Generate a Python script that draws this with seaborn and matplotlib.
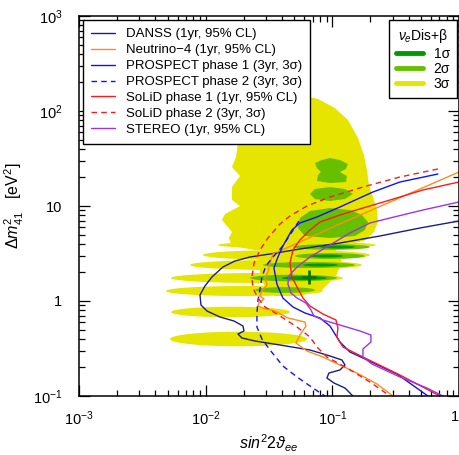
import numpy as np
import matplotlib
matplotlib.use("Agg")
import matplotlib.pyplot as plt
from matplotlib.lines import Line2D
from matplotlib.ticker import FixedLocator, FixedFormatter, LogLocator, NullFormatter
import seaborn as sns

# ---------------- exclusion / sensitivity curves: (sin^2 2theta_ee, dm2_41) ----------------
danss_s = [1.0, 0.4914, 0.2376, 0.1148, 0.0555, 0.0322, 0.0224, 0.01703, 0.01369, 0.01121,
           0.00987, 0.00902, 0.00918, 0.01024, 0.01297, 0.01673, 0.01970, 0.02006, 0.01799,
           0.01934, 0.02450, 0.0386, 0.0666, 0.0958, 0.1191, 0.1258, 0.1148, 0.0940, 0.0906,
           0.1030, 0.1258, 0.1454]
danss_m = [6.952, 5.867, 4.833, 4.077, 3.527, 3.124, 2.906, 2.637, 2.280, 1.789, 1.438, 1.157,
           0.9075, 0.7847, 0.6784, 0.6158, 0.5456, 0.4833, 0.4494, 0.4077, 0.3793, 0.3442,
           0.3050, 0.2637, 0.2393, 0.2120, 0.1878, 0.1746, 0.1547, 0.1370, 0.1214, 0.1]

nu4_s = [1.0, 0.1191, 0.0386, 0.0340, 0.0322, 0.0310, 0.0294, 0.0305, 0.0278, 0.0268, 0.0289,
         0.0263, 0.0259, 0.0283, 0.0352, 0.0446, 0.0608, 0.0619, 0.0555, 0.0516, 0.0630,
         0.0843, 0.1564, 0.2249, 0.3008]
nu4_m = [22.80, 6.624, 3.360, 3.124, 2.512, 2.020, 1.746, 1.474, 1.274, 1.129, 1.050, 0.9526,
         0.8859, 0.8437, 0.7847, 0.6624, 0.6010, 0.5456, 0.4386, 0.3613, 0.2976, 0.2573,
         0.1746, 0.1338, 0.1]

prosp1_s = [0.6818, 0.3417, 0.2092, 0.1148, 0.0756, 0.0555, 0.0480, 0.0407, 0.0372, 0.0346,
            0.0365, 0.0407, 0.0489, 0.0608, 0.0799, 0.0958, 0.1148, 0.1377, 0.1744, 0.3235, 0.5683]
prosp1_m = [21.72, 17.89, 14.04, 9.761, 7.660, 6.624, 5.589, 3.793, 2.906, 2.226, 1.510, 1.075,
            0.8646, 0.7475, 0.6624, 0.5456, 0.3702, 0.2906, 0.2512, 0.1704, 0.1]

prosp2_s = [0.0545, 0.0463, 0.0400, 0.0340, 0.0299, 0.0278, 0.0268, 0.0259, 0.0254, 0.0254,
            0.0278, 0.0322, 0.0407, 0.0526, 0.0703, 0.0874]
prosp2_m = [6.952, 4.952, 3.702, 2.906, 2.336, 1.789, 1.305, 1.0245, 0.7475, 0.5324, 0.3981,
            0.3050, 0.2070, 0.1585, 0.1214, 0.1]

solid1_s = [1.0, 0.5190, 0.2849, 0.1744, 0.1148, 0.0799, 0.0666, 0.0555, 0.0489, 0.0463, 0.0480,
            0.0526, 0.0586, 0.0666, 0.0843, 0.1068, 0.1107, 0.1087, 0.1212, 0.1744, 0.3417, 0.7068]
solid1_m = [17.89, 14.74, 11.56, 9.526, 8.040, 6.784, 5.589, 4.386, 3.442, 2.512, 1.789, 1.404,
            1.075, 0.8859, 0.7297, 0.6310, 0.5197, 0.4178, 0.3280, 0.2573, 0.1663, 0.1]

solid2_s = [0.6818, 0.3417, 0.1744, 0.0958, 0.0630, 0.0463, 0.0386, 0.0310, 0.0268, 0.0241,
            0.0232, 0.0236, 0.0259, 0.0294, 0.0365, 0.0526, 0.0666, 0.0756, 0.0906, 0.1304,
            0.1981, 0.2849]
solid2_m = [24.52, 20.20, 15.85, 12.43, 10.0, 7.847, 6.465, 4.605, 3.442, 2.512, 1.789, 1.370,
            1.075, 0.8646, 0.7297, 0.5324, 0.4178, 0.3280, 0.2573, 0.1971, 0.1404, 0.1]

stereo_s = [1.0, 0.5190, 0.2849, 0.1981, 0.1377, 0.0958, 0.0666, 0.0526, 0.0454, 0.0446, 0.0471,
            0.0526, 0.0619, 0.0678, 0.0716, 0.0843, 0.1148, 0.1652, 0.2017, 0.2017, 0.1744,
            0.1744, 0.2054, 0.3417, 0.5580, 0.7464]
stereo_m = [11.02, 9.075, 7.474, 6.624, 5.197, 3.886, 2.906, 2.280, 1.833, 1.510, 1.214, 1.075,
            0.9526, 0.8040, 0.6952, 0.6310, 0.5589, 0.4833, 0.4386, 0.3702, 0.3124, 0.2573,
            0.2172, 0.1585, 0.1214, 0.1]

# ---------------- allowed regions (nu_e Dis + beta) ----------------
# 3 sigma: main island
y3_s = [0.01735, 0.0555, 0.0770, 0.1048, 0.1328, 0.1593, 0.1776, 0.1876, 0.1945, 0.2092, 0.2249,
        0.2291, 0.2130, 0.1842, 0.1258, 0.0555, 0.0245, 0.01613, 0.01527, 0.01613, 0.01473,
        0.01345, 0.01420, 0.01866, 0.01613, 0.01613, 0.01866, 0.01613, 0.01735, 0.01799]
y3_m = [147.4, 147.4, 133.8, 107.5, 80.40, 51.97, 34.42, 23.93, 16.63, 12.43, 9.075, 6.784,
        5.325, 4.386, 3.793, 3.442, 3.442, 3.793, 4.605, 5.325, 6.158, 7.122, 8.238, 10.0,
        11.56, 15.85, 20.70, 25.73, 32.80, 46.05]
# 3 sigma: core joining the fingers
core_s = [0.0278, 0.1048, 0.1191, 0.1068, 0.0828, 0.0555, 0.0352, 0.0294, 0.0268, 0.0259]
core_m = [3.614, 3.614, 2.573, 1.833, 1.305, 1.129, 1.129, 1.370, 2.020, 2.836]
# 3 sigma: horizontal fingers (left tip, right tip, centre, upper edge)
f3_lo = [0.01251, 0.00952, 0.00752, 0.00532, 0.00486, 0.00532, 0.00523]
f3_hi = [0.2208, 0.1981, 0.1712, 0.1212, 0.0843, 0.0463, 0.0630]
f3_mid = [3.886, 3.050, 2.393, 1.746, 1.274, 0.7656, 0.3981]
f3_top = [4.22, 3.44, 2.70, 1.97, 1.44, 0.870, 0.475]

# 2 sigma islands
g_a_s = [0.0958, 0.1148, 0.1328, 0.1281, 0.1148, 0.1304, 0.1281, 0.0958, 0.0756, 0.0770,
         0.0813, 0.0756, 0.0729, 0.0828]
g_a_m = [32.02, 30.50, 27.68, 24.52, 22.80, 20.70, 17.89, 17.46, 18.34, 21.20, 22.80, 25.12,
         28.36, 30.50]
g_b_s = [0.0958, 0.1258, 0.1454, 0.1258, 0.0958, 0.0729, 0.0666, 0.0729]
g_b_m = [15.85, 15.10, 13.38, 11.85, 11.29, 11.85, 13.38, 15.10]
g_c_s = [0.0958, 0.1377, 0.1712, 0.1910, 0.1809, 0.1508, 0.0958, 0.0608, 0.0535, 0.0555, 0.0666]
g_c_m = [9.526, 9.075, 8.040, 6.784, 5.589, 4.833, 4.605, 4.833, 5.867, 7.474, 8.859]
f2_lo = [0.0489, 0.0507, 0.0283, 0.0224, 0.0245]
f2_hi = [0.1981, 0.1809, 0.1508, 0.1087, 0.0729]
f2_mid = [3.702, 2.976, 2.393, 1.746, 1.305]
f2_top = [3.96, 3.19, 2.57, 1.89, 1.40]

# 1 sigma fingers
f1_lo = [0.0799, 0.0666, 0.0586, 0.0400]
f1_hi = [0.1508, 0.1212, 0.1107, 0.0906]
f1_mid = [3.702, 2.976, 2.393, 1.746]
f1_top = [3.839, 3.086, 2.481, 1.833]

best_s, best_m = 0.0654, 1.789

C3, C2, C1 = "#e5e500", "#66bf00", "#009a00"

sns.set_theme(style="ticks", rc={"axes.edgecolor": "black", "xtick.color": "black",
                                 "ytick.color": "black", "text.color": "black",
                                 "axes.labelcolor": "black"})
plt.rcParams["font.family"] = ["Liberation Sans", "DejaVu Sans"]
plt.rcParams["mathtext.fontset"] = "custom"
plt.rcParams["mathtext.rm"] = "Liberation Sans"
plt.rcParams["mathtext.it"] = "Liberation Sans:italic"

fig = plt.figure(figsize=(4.6, 4.55), dpi=100)
ax = fig.add_axes([79 / 460, 59 / 455, 380 / 460, 380 / 455])
ax.set_xscale("log")
ax.set_yscale("log")


def fill_fingers(lo, hi, mid, top, color):
    t = np.linspace(0, 2 * np.pi, 90)
    for a, b, c, d in zip(lo, hi, mid, top):
        cx = (np.log10(a) + np.log10(b)) / 2
        rx = (np.log10(b) - np.log10(a)) / 2
        cy = np.log10(c)
        ry = np.log10(d) - cy
        ax.fill(10 ** (cx + rx * np.cos(t)), 10 ** (cy + ry * np.sin(t)), color=color, lw=0)


# allowed regions
ax.fill(y3_s, y3_m, color=C3, lw=0)
ax.fill(core_s, core_m, color=C3, lw=0)
fill_fingers(f3_lo, f3_hi, f3_mid, f3_top, C3)
for s, m in [(g_a_s, g_a_m), (g_b_s, g_b_m), (g_c_s, g_c_m)]:
    ax.fill(s, m, color=C2, lw=0)
fill_fingers(f2_lo, f2_hi, f2_mid, f2_top, C2)
fill_fingers(f1_lo, f1_hi, f1_mid, f1_top, C1)

# experiment curves
curves = [
    ("DANSS (1yr, 95% CL)", danss_s, danss_m, "#1c1c8a", "-"),
    ("Neutrino\u22124 (1yr, 95% CL)", nu4_s, nu4_m, "#ff8c1a", "-"),
    ("PROSPECT phase 1 (3yr, 3\u03c3)", prosp1_s, prosp1_m, "#1010ff", "-"),
    ("PROSPECT phase 2 (3yr, 3\u03c3)", prosp2_s, prosp2_m, "#1010ff", (0, (4, 3))),
    ("SoLiD phase 1 (1yr, 95% CL)", solid1_s, solid1_m, "#ff1a1a", "-"),
    ("SoLiD phase 2 (3yr, 3\u03c3)", solid2_s, solid2_m, "#ff1a1a", (0, (4, 3))),
    ("STEREO (1yr, 95% CL)", stereo_s, stereo_m, "#a033e8", "-"),
]
handles = []
for label, s, m, col, ls in curves:
    sns.lineplot(x=s, y=m, sort=False, estimator=None, color=col, linestyle=ls, lw=1.0, ax=ax)
    handles.append(Line2D([], [], color=col, linestyle=ls, lw=1.0, label=label))

ax.plot([best_s], [best_m], marker="+", color="#007a00", ms=10, mew=2, ls="none")

ax.set_xlim(1e-3, 1)
ax.set_ylim(0.1, 1000)

ax.xaxis.set_major_locator(FixedLocator([1e-3, 1e-2, 1e-1, 1]))
ax.xaxis.set_major_formatter(FixedFormatter(["$10^{-3}$", "$10^{-2}$", "$10^{-1}$", "1"]))
ax.yaxis.set_major_locator(FixedLocator([0.1, 1, 10, 100, 1000]))
ax.yaxis.set_major_formatter(FixedFormatter(["$10^{-1}$", "1", "10", "$10^{2}$", "$10^{3}$"]))
for axis in (ax.xaxis, ax.yaxis):
    axis.set_minor_locator(LogLocator(base=10, subs=np.arange(2, 10), numticks=20))
    axis.set_minor_formatter(NullFormatter())
ax.tick_params(which="both", direction="in", top=True, right=True, width=0.9, labelsize=10.5)
ax.tick_params(which="major", length=8)
ax.tick_params(which="minor", length=4)
ax.tick_params(axis="x", pad=10)
ax.tick_params(axis="y", pad=12)
for sp in ax.spines.values():
    sp.set_linewidth(1.1)

ax.set_xlabel(r"$sin^{2}2\vartheta_{ee}$", fontsize=11.5)
ax.xaxis.set_label_coords(0.5, -0.095)
ax.set_ylabel(r"$\Delta m^{2}_{41}$   [eV$^{2}$]", fontsize=11.5)
ax.yaxis.set_label_coords(-0.14, 0.50)

leg1 = ax.legend(handles=handles, loc="upper left", bbox_to_anchor=(0.0105, 0.989),
                 borderaxespad=0, fontsize=9.5, frameon=True, fancybox=False,
                 edgecolor="black", framealpha=1, handlelength=1.85, handletextpad=0.8,
                 labelspacing=0.28, borderpad=0.6)
leg1.get_frame().set_linewidth(1.0)
ax.add_artist(leg1)

sig_handles = [Line2D([], [], color=c, lw=3.5, label=l)
               for c, l in [(C1, "1\u03c3"), (C2, "2\u03c3"), (C3, "3\u03c3")]]
leg2 = ax.legend(handles=sig_handles, title="$\\nu_e$Dis+\u03b2", loc="upper right",
                 bbox_to_anchor=(0.995, 0.989), borderaxespad=0, fontsize=10,
                 title_fontsize=10, frameon=True, fancybox=False, edgecolor="black",
                 framealpha=1, handlelength=1.9, handletextpad=0.8, labelspacing=0.1,
                 borderpad=0.5)
leg2.get_frame().set_linewidth(1.0)

fig.canvas.draw()
ax.get_xticklabels()[-1].set_horizontalalignment("right")

fig.savefig("out.png", dpi=100)
